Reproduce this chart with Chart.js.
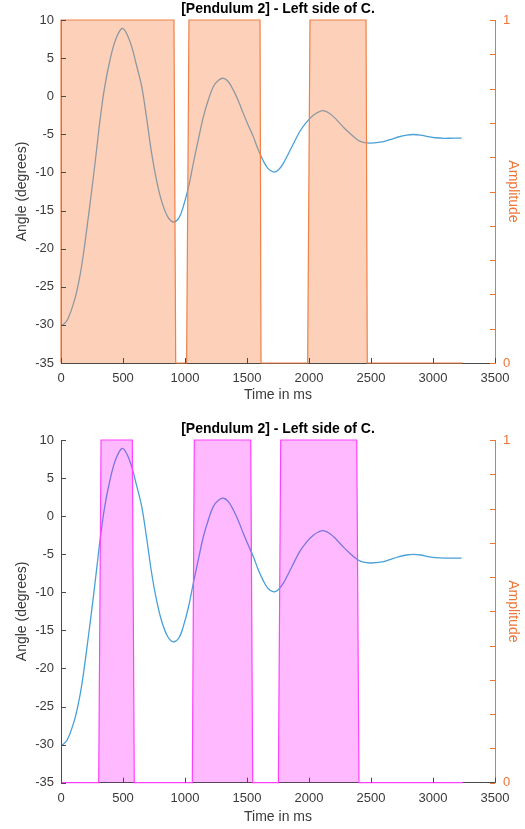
<!DOCTYPE html>
<html>
<head>
<meta charset="utf-8">
<script src="https://cdn.jsdelivr.net/npm/chart.js@4"></script>
<style>
  html, body { margin: 0; padding: 0; background: #fff; }
  .box { position: absolute; left: 0; width: 525px; }
</style>
</head>
<body>
<div class="box" style="top:0px;height:410px;"><canvas id="c1"></canvas></div>
<div class="box" style="top:420px;height:409px;"><canvas id="c2"></canvas></div>
<script>
// ---------------- data ----------------
const chartTitle = '[Pendulum 2] - Left side of C.';
const xTitle = 'Time in ms';
const yLeftTitle = 'Angle (degrees)';
const yRightTitle = 'Amplitude';

const xTickValues = [0, 500, 1000, 1500, 2000, 2500, 3000, 3500];
const angleTickValues = [-35, -30, -25, -20, -15, -10, -5, 0, 5, 10];
const ampLabelValues = [0, 1];

const timeMs = [0, 50, 110, 150, 180, 220, 261, 290, 315, 350, 395, 440, 492, 530, 570, 610, 651, 690, 731, 770, 812, 860, 906, 950, 986, 1030, 1067, 1110, 1148, 1190, 1228, 1270, 1312, 1350, 1390, 1430, 1470, 1510, 1551, 1590, 1632, 1670, 1715, 1750, 1793, 1860, 1927, 1980, 2035, 2080, 2115, 2170, 2223, 2280, 2331, 2390, 2438, 2500, 2590, 2653, 2720, 2788, 2840, 2900, 2960, 3020, 3090, 3160, 3231];
const angleDeg = [-30.2, -29.4, -26.7, -23.8, -20.8, -15.9, -10.6, -6.6, -3.1, 1.0, 4.75, 7.4, 8.9, 8.2, 6.5, 4.0, 1.25, -2.8, -7.5, -11.0, -13.8, -15.8, -16.5, -16.0, -14.5, -11.8, -8.8, -5.5, -2.7, -0.4, 1.25, 2.1, 2.35, 1.9, 0.8, -0.6, -2.25, -3.8, -5.3, -7.0, -8.5, -9.5, -9.95, -9.7, -8.8, -6.7, -4.6, -3.4, -2.5, -2.05, -1.9, -2.3, -3.1, -4.1, -4.9, -5.7, -6.05, -6.15, -6.0, -5.7, -5.35, -5.1, -5.02, -5.1, -5.3, -5.45, -5.52, -5.5, -5.5];

// amplitude (top chart)
const amp1Time = [0, 0, 911, 925, 1013, 1032, 1605, 1613, 1989, 2008, 2460, 2470, 3240];
const amp1Val  = [0, 1, 1, 0, 0, 1, 1, 0, 0, 1, 1, 0, 0];
// amplitude (bottom chart)
const amp2Time = [0, 304, 323, 575, 591, 1059, 1075, 1530, 1546, 1753, 1772, 2385, 2403, 3240];
const amp2Val  = [0, 0, 1, 1, 0, 0, 1, 1, 0, 0, 1, 1, 0, 0];

// ---------------- styles ----------------
const FONT = '"Liberation Sans", Arial, Helvetica, sans-serif';
const axisGray = '#4a4a4a';
const textGray = '#3a3a3a';
const orange = 'rgb(236,118,56)';
const lineBlue = 'rgb(72,160,216)';

const inwardTicks = {
  id: 'inwardTicks',
  afterDraw(chart) {
    const ctx = chart.ctx, a = chart.chartArea;
    const L = 5;
    ctx.save();
    ctx.lineWidth = 1;
    const xs = chart.scales.x;
    ctx.strokeStyle = axisGray;
    xTickValues.forEach(v => {
      const p = Math.round(xs.getPixelForValue(v)) + 0.5;
      ctx.beginPath(); ctx.moveTo(p, a.bottom); ctx.lineTo(p, a.bottom - L); ctx.stroke();
    });
    const yl = chart.scales.yAngle;
    angleTickValues.forEach(v => {
      const p = Math.round(yl.getPixelForValue(v)) + 0.5;
      ctx.beginPath(); ctx.moveTo(a.left, p); ctx.lineTo(a.left + L, p); ctx.stroke();
    });
    const yr = chart.scales.yAmp;
    ctx.strokeStyle = orange;
    yr.ticks.forEach(t => {
      const p = Math.round(yr.getPixelForValue(t.value)) + 0.5;
      ctx.beginPath(); ctx.moveTo(a.right, p); ctx.lineTo(a.right - L, p); ctx.stroke();
    });
    ctx.restore();
  }
};

function makeChart(id, ampT, ampV, fillCol, edgeCol, xTitlePad, xHeight) {
  const angleData = timeMs.map((t, i) => ({x: t, y: angleDeg[i]}));
  const ampData = ampT.map((t, i) => ({x: t, y: ampV[i]}));
  return new Chart(document.getElementById(id), {
    type: 'line',
    data: {
      datasets: [
        {
          label: 'Amplitude',
          data: ampData,
          yAxisID: 'yAmp',
          borderColor: edgeCol,
          backgroundColor: fillCol,
          borderWidth: 1.2,
          fill: 'origin',
          tension: 0,
          pointRadius: 0,
          clip: 4,
          order: 0
        },
        {
          label: 'Angle',
          data: angleData,
          yAxisID: 'yAngle',
          borderColor: lineBlue,
          borderWidth: 1.3,
          fill: false,
          tension: 0.35,
          pointRadius: 0,
          order: 1
        }
      ]
    },
    options: {
      responsive: true,
      maintainAspectRatio: false,
      animation: false,
      layout: { padding: 0 },
      plugins: {
        legend: { display: false },
        tooltip: { enabled: false },
        title: {
          display: true,
          text: chartTitle,
          fullSize: false,
          color: '#000',
          font: { family: FONT, size: 14, weight: 'bold', lineHeight: 1.2 },
          padding: { top: 0.9, bottom: 2.3 }
        }
      },
      scales: {
        x: {
          type: 'linear',
          min: 0, max: 3500,
          afterBuildTicks: s => { s.ticks = xTickValues.map(v => ({value: v})); },
          grid: { display: false, drawTicks: false },
          border: { display: true, color: axisGray, width: 1 },
          ticks: { color: textGray, font: { family: FONT, size: 13 }, padding: 8, maxRotation: 0, callback: v => String(v) },
          title: { display: true, text: xTitle, color: textGray, font: { family: FONT, size: 14, lineHeight: 1.2 }, padding: { top: 0, bottom: xTitlePad } },
          afterFit: s => { s.height = xHeight; }
        },
        yAngle: {
          type: 'linear',
          position: 'left',
          min: -35, max: 10,
          afterBuildTicks: s => { s.ticks = angleTickValues.map(v => ({value: v})); },
          grid: { display: false, drawTicks: false },
          border: { display: true, color: axisGray, width: 1 },
          ticks: { color: textGray, font: { family: FONT, size: 13 }, padding: 7, callback: v => String(v) },
          title: { display: true, text: yLeftTitle, color: textGray, font: { family: FONT, size: 14, lineHeight: 1.2 }, padding: { top: 13.3, bottom: 0 } },
          afterFit: s => { s.width = 61; }
        },
        yAmp: {
          type: 'linear',
          position: 'right',
          min: 0, max: 1,
          ticks: {
            stepSize: 0.1,
            color: orange,
            font: { family: FONT, size: 13 },
            padding: 8,
            callback: v => (ampLabelValues.some(l => Math.abs(l - v) < 1e-9) ? String(Math.round(v)) : '')
          },
          grid: { display: false, drawTicks: false },
          border: { display: true, color: orange, width: 1 },
          title: { display: true, text: yRightTitle, color: orange, font: { family: FONT, size: 14, lineHeight: 1.2 }, padding: { top: 4.1, bottom: 0 } },
          afterFit: s => { s.width = 30; }
        }
      }
    },
    plugins: [inwardTicks]
  });
}

makeChart('c1', amp1Time, amp1Val, 'rgba(250,140,80,0.4)', 'rgb(240,128,70)', 6.6, 47);
makeChart('c2', amp2Time, amp2Val, 'rgba(255,0,255,0.27)', 'rgb(255,64,255)', 3.9, 46.3);
</script>
</body>
</html>
